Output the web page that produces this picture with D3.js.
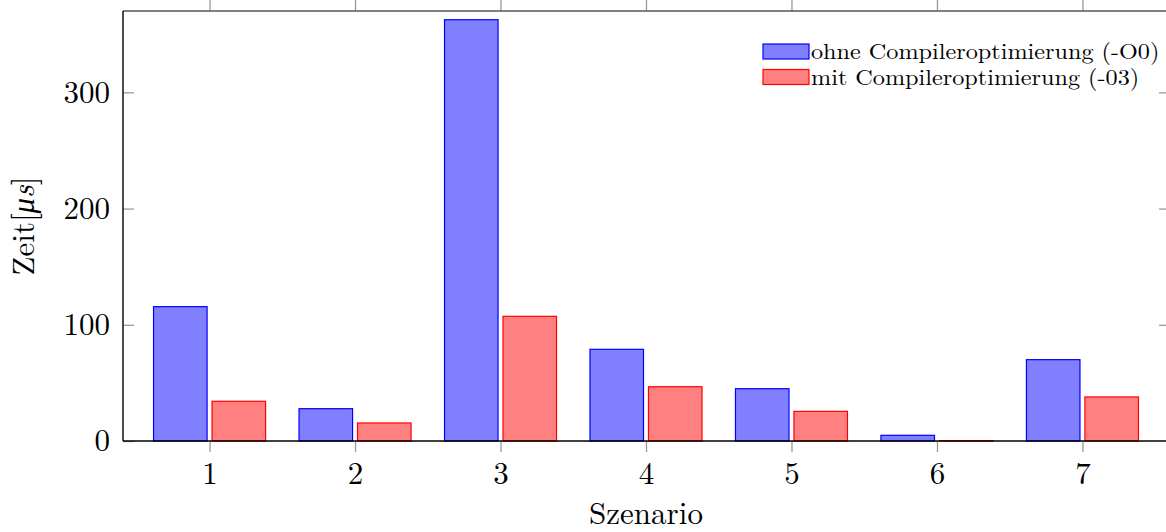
<!DOCTYPE html>
<html>
<head>
<meta charset="utf-8">
<script src="https://cdn.jsdelivr.net/npm/d3@7"></script>
<style>
  html, body { margin: 0; padding: 0; background: #fff; }
  svg { display: block; }
</style>
</head>
<body>
<svg id="chart" width="1166" height="532"></svg>
<script>
const categories = [1, 2, 3, 4, 5, 6, 7];
const seriesNames = ["ohne Compileroptimierung (-O0)", "mit Compileroptimierung (-03)"];
const valuesO0 = [115.6, 27.8, 362.5, 78.9, 45.0, 4.9, 70.0];
const valuesO3 = [34.2, 15.5, 107.3, 46.7, 25.5, 0.3, 37.9];
const yTicks = [0, 100, 200, 300];
const fills = ["#8080ff", "#ff8080"];
const strokes = ["#0000ff", "#ff0000"];

(function () {
const FONT = "Latin Modern Roman, Liberation Serif, serif";
const svg = d3.select("#chart");
const pL = 123, pR = 1169, pT = 11, pB = 441;

const x = d3.scaleLinear().domain([0.405, 7.595]).range([pL, pR]);
const y = d3.scaleLinear().domain([0, 370]).range([pB, pT]);

const barW = 0.368, off = 0.201;
const series = [valuesO0, valuesO3];

series.forEach((vals, si) => {
  const sign = si === 0 ? -1 : 1;
  svg.append("g").selectAll("rect")
    .data(categories.map((c, i) => ({c, v: vals[i]})))
    .join("rect")
    .attr("x", d => x(d.c + sign * off - barW / 2))
    .attr("width", d => x(d.c + sign * off + barW / 2) - x(d.c + sign * off - barW / 2))
    .attr("y", d => y(d.v))
    .attr("height", d => y(0) - y(d.v))
    .attr("fill", fills[si])
    .attr("stroke", strokes[si])
    .attr("stroke-width", 1.2);
});

const tickColor = "#999";
const xAxisB = d3.axisBottom(x).tickValues(categories).tickFormat(d3.format("d")).tickSize(11).tickPadding(10);
const gxb = svg.append("g").attr("transform", `translate(0,${pB})`).call(xAxisB);
gxb.select(".domain").remove();
gxb.attr("font-family", FONT);
gxb.selectAll(".tick line").attr("stroke", tickColor).attr("stroke-width", 1.3);
gxb.selectAll(".tick text").attr("font-size", 31).attr("fill", "#000").attr("font-family", FONT);

const xAxisT = d3.axisTop(x).tickValues(categories).tickFormat("").tickSize(11);
const gxt = svg.append("g").attr("transform", `translate(0,${pT})`).call(xAxisT);
gxt.select(".domain").remove();
gxt.selectAll(".tick line").attr("stroke", tickColor).attr("stroke-width", 1.3);

const yAxisL = d3.axisLeft(y).tickValues(yTicks).tickSize(-11).tickPadding(13).tickFormat(d3.format("d"));
const gyl = svg.append("g").attr("transform", `translate(${pL},0)`).call(yAxisL);
gyl.select(".domain").remove();
gyl.attr("font-family", FONT);
gyl.selectAll(".tick line").attr("stroke", tickColor).attr("stroke-width", 1.3);
gyl.selectAll(".tick text").attr("font-size", 31).attr("fill", "#000").attr("font-family", FONT);

const yAxisR = d3.axisRight(y).tickValues(yTicks.filter(t => t > 0)).tickSize(-10).tickFormat("");
const gyr = svg.append("g").attr("transform", `translate(${pR},0)`).call(yAxisR);
gyr.select(".domain").remove();
gyr.selectAll(".tick line").attr("stroke", tickColor).attr("stroke-width", 1.3);

svg.append("line").attr("x1", pL).attr("x2", pR).attr("y1", pT).attr("y2", pT)
  .attr("stroke", "#555").attr("stroke-width", 1.4);
svg.append("line").attr("x1", pL).attr("x2", pR).attr("y1", pB).attr("y2", pB)
  .attr("stroke", "#000").attr("stroke-width", 1.4);
svg.append("line").attr("x1", pL).attr("x2", pL).attr("y1", pT).attr("y2", pB)
  .attr("stroke", "#000").attr("stroke-width", 1.4);

svg.append("text").attr("x", x(4)).attr("y", 524).attr("text-anchor", "middle")
  .attr("font-family", FONT).attr("font-size", 31).text("Szenario");

const yl = svg.append("text").attr("transform", `translate(34,${(pT + pB) / 2}) rotate(-90)`)
  .attr("text-anchor", "middle").attr("font-family", FONT).attr("font-size", 31);
yl.append("tspan").text("Zeit[");
yl.append("tspan").attr("font-style", "italic").text("μs");
yl.append("tspan").text("]");

const lg = svg.append("g");
seriesNames.forEach((name, i) => {
  const yy = 44 + i * 25.5;
  lg.append("rect").attr("x", 763).attr("y", yy).attr("width", 46).attr("height", 15)
    .attr("fill", fills[i]).attr("stroke", strokes[i]).attr("stroke-width", 1.2);
  const t = lg.append("text").attr("x", 811).attr("y", yy + 15).attr("font-family", FONT)
    .attr("font-size", 22).text(name);
  const w = t.node().getComputedTextLength();
  t.attr("textLength", w * 1.1).attr("lengthAdjust", "spacingAndGlyphs");
});
})();
</script>
</body>
</html>
